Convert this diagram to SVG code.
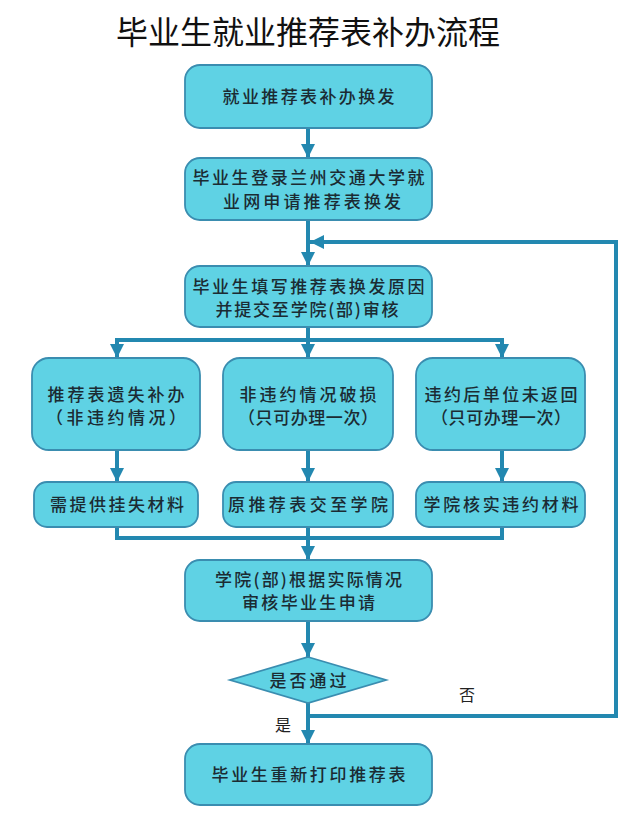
<svg xmlns="http://www.w3.org/2000/svg" width="640" height="832" viewBox="0 0 640 832">
<defs>
<style>
.box{fill:#5fd2e4;stroke:#3a8db0;stroke-width:1.8}
.t{font-family:"Noto Sans CJK SC","Noto Sans",sans-serif;font-size:17px;font-weight:500;fill:#1b2b33;text-anchor:middle}
.title{font-family:"Noto Sans CJK SC","Noto Sans",sans-serif;font-size:32px;fill:#111;text-anchor:middle}
.lbl{font-family:"Noto Sans CJK SC","Noto Sans",sans-serif;font-size:16px;fill:#222;text-anchor:middle}
.c{fill:none;stroke:#2388b0;stroke-width:4}
</style>
<marker id="ah" markerUnits="userSpaceOnUse" markerWidth="14" markerHeight="14" viewBox="0 0 14 14" refX="14" refY="7" orient="auto">
<path d="M0,0 L14,7 L0,14 Z" fill="#2388b0"/>
</marker>
</defs>
<rect width="640" height="832" fill="#fff"/>
<text class="title" x="308" y="44">毕业生就业推荐表补办流程</text>

<g id="connectors">
<path class="c" d="M308,128 V158" marker-end="url(#ah)"/>
<path class="c" d="M308,220 V266" marker-end="url(#ah)"/>
<path class="c" d="M308,327 V340"/>
<path class="c" d="M117,340 H502"/>
<path class="c" d="M117,338 V358" marker-end="url(#ah)"/>
<path class="c" d="M308,338 V358" marker-end="url(#ah)"/>
<path class="c" d="M502,338 V358" marker-end="url(#ah)"/>
<path class="c" d="M117,450 V482" marker-end="url(#ah)"/>
<path class="c" d="M308,450 V482" marker-end="url(#ah)"/>
<path class="c" d="M502,450 V482" marker-end="url(#ah)"/>
<path class="c" d="M117,527 V538 H502 V527"/>
<path class="c" d="M308,527 V560" marker-end="url(#ah)"/>
<path class="c" d="M308,621 V657" marker-end="url(#ah)"/>
<path class="c" d="M308,703 V744" marker-end="url(#ah)"/>
<path class="c" d="M308,716 H616 V242 H310" marker-end="url(#ah)"/>
<text class="lbl" x="467" y="701">否</text>
<text class="lbl" x="283" y="731">是</text>
</g>

<g id="n1"><rect class="box" x="185" y="65" width="247" height="63" rx="15"/>
<text class="t" x="308.5" y="103" textLength="172" lengthAdjust="spacing">就业推荐表补办换发</text></g>

<g id="n2"><rect class="box" x="185" y="158" width="247" height="62" rx="15"/>
<text class="t" x="308.5" y="184" textLength="232" lengthAdjust="spacing">毕业生登录兰州交通大学就</text>
<text class="t" x="312" y="208" textLength="178" lengthAdjust="spacing">业网申请推荐表换发</text></g>

<g id="n3"><rect class="box" x="185" y="266" width="247" height="61" rx="15"/>
<text class="t" x="308.5" y="293" textLength="232" lengthAdjust="spacing">毕业生填写推荐表换发原因</text>
<text class="t" x="307" y="316" textLength="183" lengthAdjust="spacing">并提交至学院(部)审核</text></g>

<g id="n4"><rect class="box" x="32" y="358" width="168" height="92" rx="17"/>
<text class="t" x="116" y="401" textLength="137" lengthAdjust="spacing">推荐表遗失补办</text>
<text class="t" x="116" y="424" textLength="140" lengthAdjust="spacing">（非违约情况）</text></g>

<g id="n5"><rect class="box" x="223" y="358" width="170" height="92" rx="17"/>
<text class="t" x="308" y="401" textLength="137" lengthAdjust="spacing">非违约情况破损</text>
<text class="t" x="308" y="424" textLength="140" lengthAdjust="spacing">（只可办理一次）</text></g>

<g id="n6"><rect class="box" x="416" y="358" width="169" height="92" rx="17"/>
<text class="t" x="501" y="401" textLength="153" lengthAdjust="spacing">违约后单位未返回</text>
<text class="t" x="501" y="424" textLength="140" lengthAdjust="spacing">（只可办理一次）</text></g>

<g id="n7"><rect class="box" x="34" y="482" width="164" height="45" rx="13"/>
<text class="t" x="117" y="511" textLength="134" lengthAdjust="spacing">需提供挂失材料</text></g>

<g id="n8"><rect class="box" x="223" y="482" width="170" height="45" rx="13"/>
<text class="t" x="308" y="511" textLength="160" lengthAdjust="spacing">原推荐表交至学院</text></g>

<g id="n9"><rect class="box" x="416" y="482" width="169" height="45" rx="13"/>
<text class="t" x="501" y="511" textLength="155" lengthAdjust="spacing">学院核实违约材料</text></g>

<g id="n10"><rect class="box" x="185" y="560" width="247" height="61" rx="15"/>
<text class="t" x="308.5" y="586" textLength="187" lengthAdjust="spacing">学院(部)根据实际情况</text>
<text class="t" x="308.5" y="609" textLength="133" lengthAdjust="spacing">审核毕业生申请</text></g>

<g id="n11"><path class="box" d="M308,657 L386,680 L308,703 L230,680 Z"/>
<text class="t" x="308" y="687" textLength="77" lengthAdjust="spacing">是否通过</text></g>

<g id="n12"><rect class="box" x="185" y="744" width="247" height="61" rx="15"/>
<text class="t" x="308.5" y="781" textLength="194" lengthAdjust="spacing">毕业生重新打印推荐表</text></g>
</svg>
